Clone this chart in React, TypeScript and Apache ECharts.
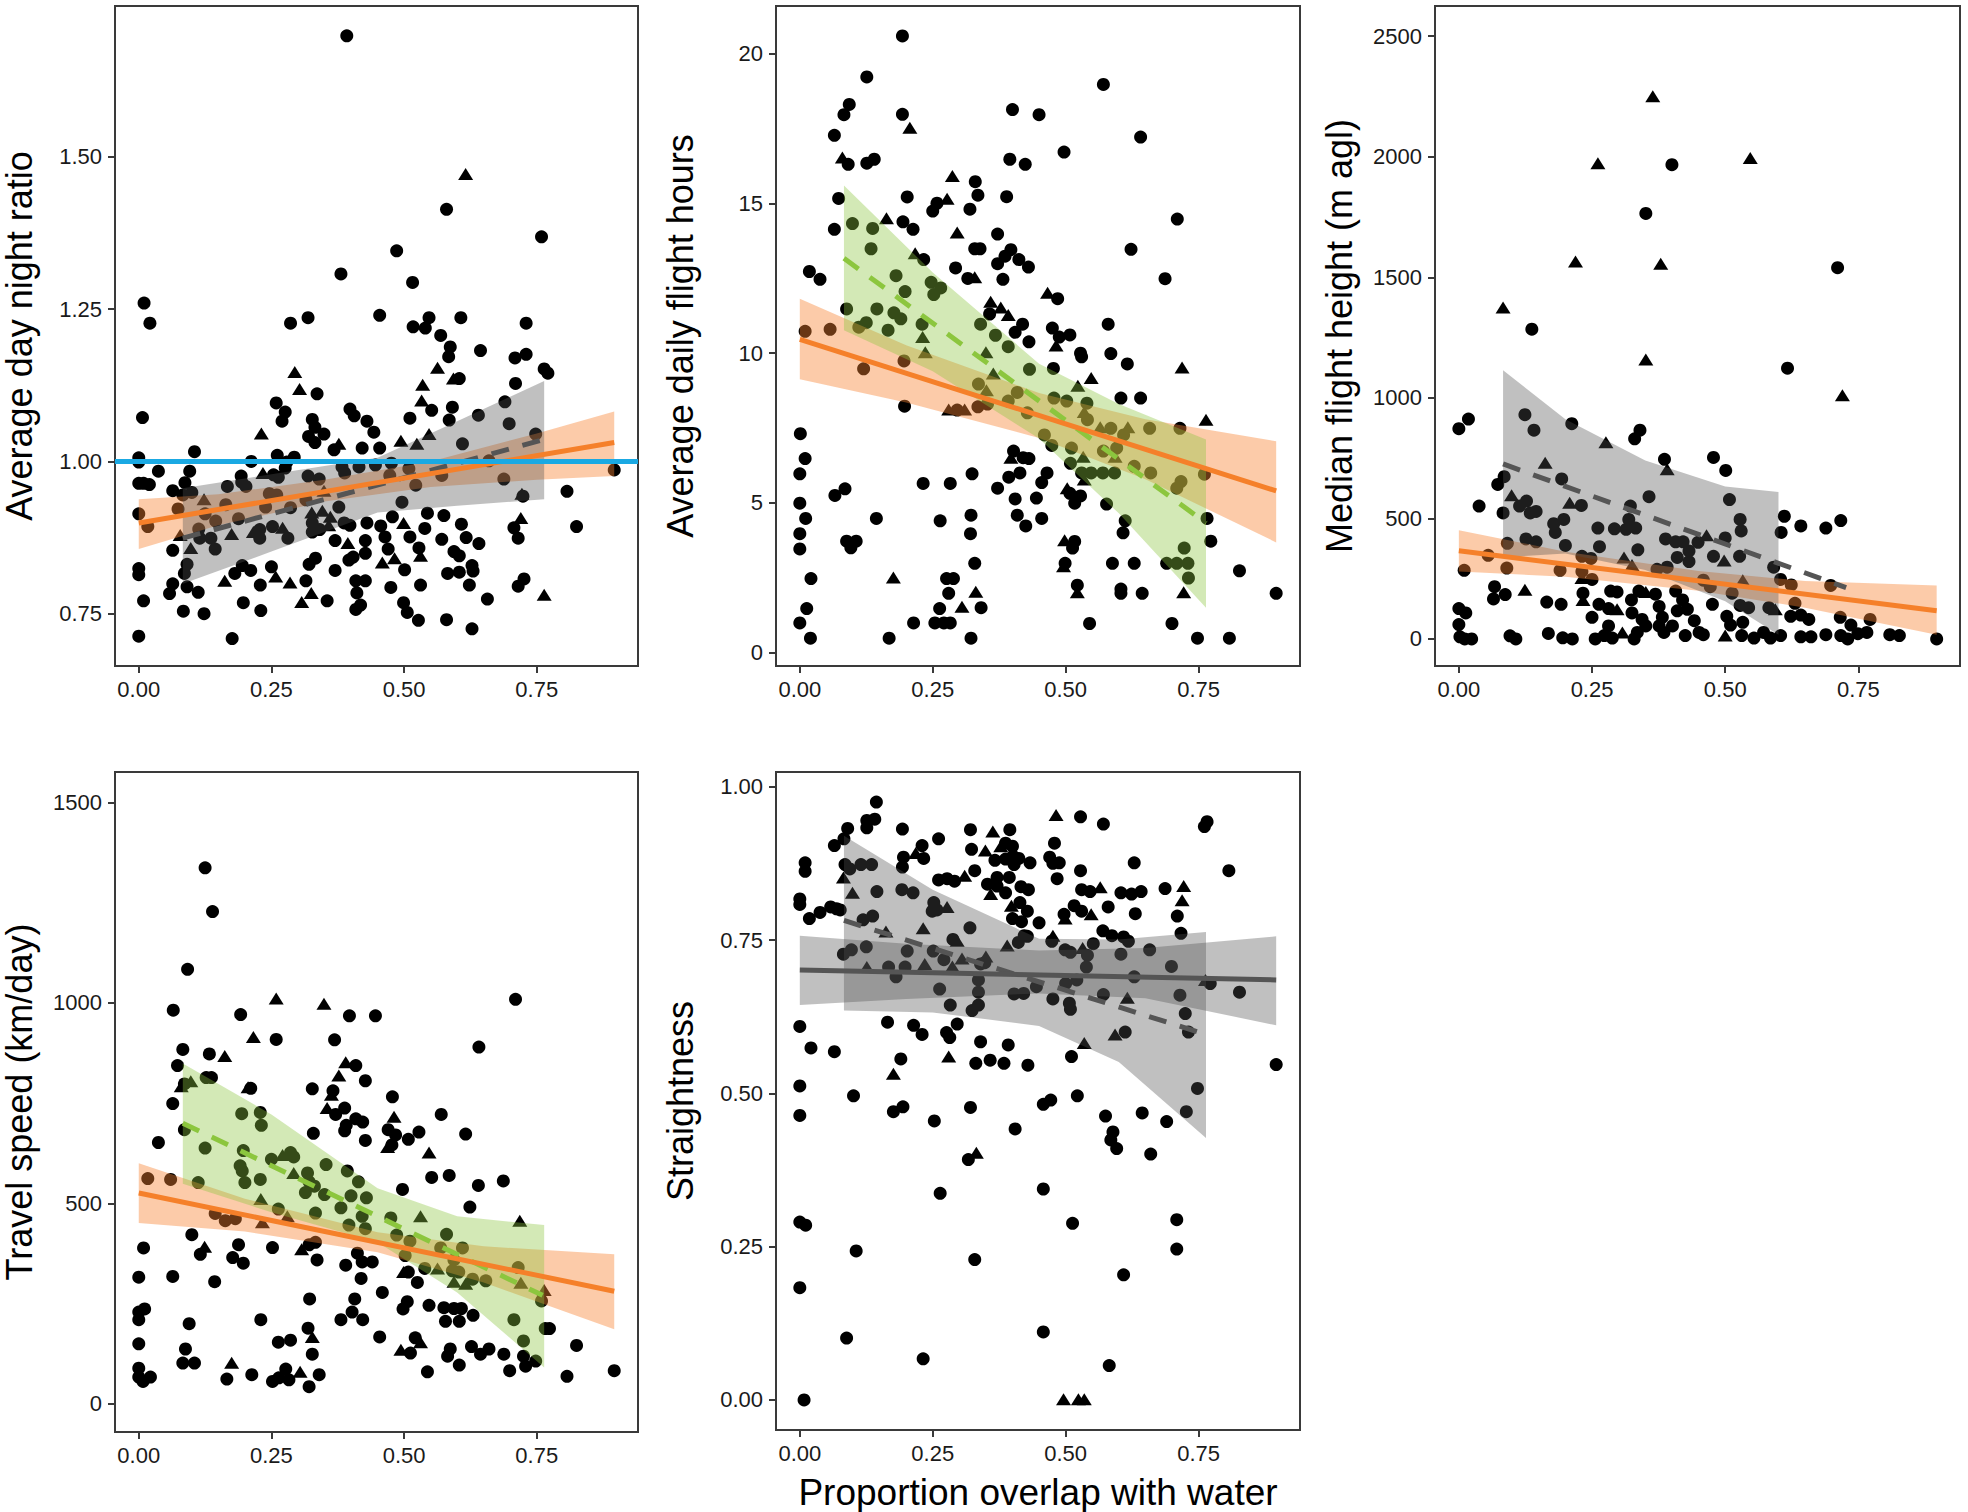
import React, { useEffect, useRef } from "react";
import * as echarts from "echarts";

const FONT = "'Liberation Sans', Arial, Helvetica, sans-serif";

// ---------- axes ----------
const X_TICKS = [0, 0.25, 0.5, 0.75];
const X_RANGE = [-0.0448, 0.9408];
const p1YTicks = [0.75, 1.0, 1.25, 1.5];
const p2YTicks = [0, 5, 10, 15, 20];
const p3YTicks = [0, 500, 1000, 1500, 2000, 2500];
const p4YTicks = [0, 500, 1000, 1500];
const p5YTicks = [0, 0.25, 0.5, 0.75, 1.0];
const yTitles = [
  "Average day night ratio",
  "Average daily flight hours",
  "Median flight height (m agl)",
  "Travel speed (km/day)",
  "Straightness",
];
const xTitle = "Proportion overlap with water";
const P1_REF = 1.0;

// ---------- panel 1: day/night ratio ----------
const p1Circles = [
  [0.392,1.699],[0.381,1.308],[0.010,1.260],[0.021,1.227],[0.286,1.227],[0.319,1.236],[0.454,1.240],[0.336,1.111],[0.007,1.072],[0.259,1.096],[0.276,1.081],[0.270,1.066],[0.327,1.069],[0.332,1.056],[0.349,1.045],[0.320,1.041],[0.332,1.031],[0.398,1.086],[0.406,1.075],[0.430,1.066],[0.443,1.048],[0.454,1.022],[0.421,1.022],[0.368,1.019],[0.105,1.016],[0.000,1.006],[0.000,0.999],[0.212,1.000],[0.261,1.010],[0.293,1.007],[0.279,0.999],[0.276,0.989],[0.037,0.984],[0.096,0.984],[0.000,0.964],[0.009,0.964],[0.020,0.962],[0.087,0.965],[0.064,0.952],[0.254,0.978],[0.263,0.974],[0.193,0.976],[0.194,0.966],[0.202,0.959],[0.167,0.959],[0.319,0.976],[0.340,0.971],[0.383,0.991],[0.388,0.981],[0.415,0.991],[0.446,0.994],[0.246,0.947],[0.260,0.945],[0.083,0.945],[0.100,0.949],[0.000,0.914],[0.017,0.893],[0.074,0.922],[0.125,0.914],[0.145,0.902],[0.164,0.929],[0.188,0.906],[0.239,0.925],[0.286,0.924],[0.315,0.937],[0.327,0.899],[0.327,0.884],[0.341,0.888],[0.377,0.925],[0.387,0.899],[0.398,0.895],[0.430,0.899],[0.456,0.894],[0.064,0.854],[0.113,0.889],[0.115,0.874],[0.136,0.874],[0.144,0.856],[0.228,0.888],[0.228,0.874],[0.252,0.893],[0.281,0.874],[0.370,0.870],[0.427,0.870],[0.396,0.838],[0.404,0.843],[0.427,0.849],[0.000,0.824],[0.000,0.814],[0.091,0.831],[0.086,0.816],[0.091,0.794],[0.064,0.799],[0.058,0.783],[0.009,0.771],[0.112,0.785],[0.181,0.816],[0.195,0.829],[0.211,0.821],[0.229,0.797],[0.250,0.827],[0.315,0.804],[0.321,0.831],[0.333,0.841],[0.355,0.771],[0.370,0.821],[0.409,0.804],[0.427,0.804],[0.411,0.784],[0.418,0.764],[0.409,0.757],[0.084,0.754],[0.123,0.750],[0.197,0.768],[0.230,0.755],[0.000,0.713],[0.176,0.709],
  [0.580,1.414],[0.759,1.369],[0.486,1.346],[0.516,1.294],[0.517,1.221],[0.540,1.219],[0.547,1.236],[0.607,1.236],[0.569,1.207],[0.587,1.188],[0.584,1.172],[0.644,1.182],[0.730,1.227],[0.730,1.176],[0.709,1.170],[0.764,1.152],[0.771,1.145],[0.710,1.128],[0.604,1.136],[0.552,1.084],[0.591,1.089],[0.511,1.071],[0.585,1.068],[0.640,1.076],[0.690,1.098],[0.698,1.062],[0.610,1.029],[0.748,1.045],[0.476,0.997],[0.509,0.988],[0.473,0.977],[0.522,0.961],[0.571,0.977],[0.660,1.001],[0.688,0.971],[0.896,0.986],[0.724,0.943],[0.807,0.951],[0.825,0.893],[0.707,0.891],[0.715,0.874],[0.496,0.933],[0.478,0.909],[0.539,0.890],[0.544,0.915],[0.575,0.911],[0.511,0.876],[0.464,0.876],[0.608,0.897],[0.571,0.872],[0.617,0.875],[0.641,0.865],[0.470,0.856],[0.528,0.858],[0.594,0.852],[0.604,0.845],[0.501,0.822],[0.582,0.816],[0.604,0.818],[0.628,0.829],[0.630,0.820],[0.623,0.797],[0.531,0.797],[0.475,0.793],[0.657,0.774],[0.726,0.807],[0.715,0.795],[0.499,0.768],[0.506,0.752],[0.527,0.739],[0.580,0.740],[0.628,0.725],
];
const p1Triangles = [
  [0.294,1.147],[0.303,1.119],[0.231,1.046],[0.377,1.029],[0.234,0.981],[0.349,0.952],[0.123,0.938],[0.326,0.916],[0.346,0.919],[0.361,0.909],[0.358,0.895],[0.078,0.879],[0.098,0.858],[0.175,0.881],[0.216,0.884],[0.271,0.891],[0.394,0.866],[0.459,0.834],[0.162,0.804],[0.258,0.811],[0.285,0.801],[0.325,0.784],[0.307,0.769],
  [0.616,1.472],[0.563,1.154],[0.535,1.126],[0.593,1.136],[0.533,1.100],[0.547,1.045],[0.494,1.034],[0.524,1.029],[0.722,0.947],[0.720,0.907],[0.499,0.899],[0.482,0.841],[0.531,0.845],[0.764,0.781],
];
const p1OrangeLine = [[0, 0.899], [0.896, 1.031]];
const p1OrangeBand = [[0,0.856,0.938],[0.15,0.895,0.946],[0.35,0.934,0.970],[0.55,0.958,1.000],[0.75,0.970,1.046],[0.896,0.976,1.082]];
const p1GrayLine = [[0.083, 0.874], [0.764, 1.036]];
const p1GrayBand = [[0.083,0.799,0.956],[0.25,0.852,0.979],[0.45,0.916,1.006],[0.6,0.927,1.066],[0.764,0.938,1.132]];

// ---------- panel 2: daily flight hours ----------
const p2Circles = [
  [0.193,20.6],[0.126,19.23],[0.093,18.31],[0.083,17.97],[0.193,17.98],[0.065,17.28],[0.091,16.31],[0.126,16.35],[0.140,16.48],[0.400,18.14],[0.450,17.97],[0.395,16.48],[0.424,16.31],[0.330,15.73],[0.335,15.28],[0.389,15.23],[0.073,15.17],[0.202,15.22],[0.258,15.01],[0.250,14.75],[0.320,14.81],[0.065,14.14],[0.099,14.33],[0.137,14.17],[0.194,14.39],[0.213,14.14],[0.372,13.98],[0.134,13.49],[0.233,13.13],[0.329,13.49],[0.339,13.49],[0.397,13.46],[0.386,13.24],[0.412,13.13],[0.372,12.99],[0.430,12.88],[0.293,12.85],[0.018,12.73],[0.038,12.47],[0.181,12.59],[0.316,12.50],[0.382,12.47],[0.198,12.06],[0.247,12.37],[0.265,12.18],[0.252,11.96],[0.357,11.31],[0.088,11.48],[0.145,11.48],[0.177,11.35],[0.190,11.15],[0.125,11.02],[0.111,10.87],[0.166,10.77],[0.230,10.97],[0.340,10.97],[0.010,10.73],[0.057,10.80],[0.419,10.97],[0.405,10.70],[0.368,10.60],[0.431,10.38],[0.392,10.22],[0.120,9.48],[0.196,9.74],[0.432,9.46],[0.336,8.97],[0.353,8.30],[0.335,8.21],[0.392,8.40],[0.409,8.69],[0.428,8.01],[0.460,7.27],[0.197,8.23],[0.296,8.10],[0.001,7.31],[0.010,6.48],[0.000,5.97],[0.000,4.99],[0.011,4.48],[0.000,3.97],[0.000,3.46],[0.066,5.25],[0.085,5.47],[0.088,3.72],[0.106,3.72],[0.096,3.50],[0.144,4.48],[0.232,5.65],[0.283,5.65],[0.324,5.97],[0.264,4.40],[0.322,4.59],[0.321,3.97],[0.329,2.98],[0.402,6.73],[0.420,6.51],[0.431,6.48],[0.372,5.49],[0.393,5.86],[0.414,6.00],[0.405,5.13],[0.445,5.16],[0.455,5.68],[0.409,4.59],[0.425,4.23],[0.455,4.48],[0.021,2.47],[0.013,1.47],[0.000,0.99],[0.020,0.48],[0.168,0.48],[0.214,0.99],[0.254,0.99],[0.271,0.99],[0.283,0.99],[0.263,1.47],[0.280,1.98],[0.289,2.47],[0.276,2.47],[0.341,1.50],[0.322,0.48],
  [0.571,18.98],[0.641,17.22],[0.497,16.72],[0.710,14.48],[0.623,13.47],[0.687,12.49],[0.485,11.82],[0.475,10.84],[0.488,10.54],[0.508,10.61],[0.580,10.97],[0.528,10.00],[0.530,9.88],[0.585,9.99],[0.616,9.64],[0.477,9.49],[0.478,8.50],[0.502,8.40],[0.540,8.33],[0.604,8.50],[0.641,8.50],[0.541,7.78],[0.585,7.49],[0.609,7.27],[0.658,7.49],[0.715,7.49],[0.474,6.92],[0.511,6.83],[0.571,6.73],[0.596,6.83],[0.509,6.32],[0.530,6.00],[0.548,6.00],[0.570,6.00],[0.592,6.00],[0.629,6.22],[0.660,6.00],[0.717,5.71],[0.709,5.49],[0.761,5.96],[0.465,6.00],[0.508,5.32],[0.528,5.23],[0.517,4.99],[0.577,4.96],[0.612,4.40],[0.608,4.00],[0.766,4.48],[0.773,3.72],[0.517,3.71],[0.513,3.49],[0.723,3.49],[0.499,2.98],[0.588,2.98],[0.629,2.98],[0.690,2.98],[0.709,2.98],[0.730,2.98],[0.731,2.49],[0.827,2.73],[0.522,2.25],[0.604,2.12],[0.604,1.98],[0.644,1.98],[0.896,1.98],[0.545,0.97],[0.700,0.97],[0.748,0.48],[0.808,0.48],
];
const p2Triangles = [
  [0.207,17.53],[0.080,16.54],[0.287,15.92],[0.277,15.16],[0.163,14.51],[0.296,14.03],[0.217,13.34],[0.329,12.54],[0.359,11.72],[0.378,11.53],[0.392,11.28],[0.231,10.54],[0.236,10.03],[0.350,10.03],[0.364,9.32],[0.351,8.76],[0.280,8.12],[0.310,8.12],[0.397,6.51],[0.176,2.51],[0.331,2.03],[0.305,1.53],
  [0.466,12.02],[0.482,10.26],[0.719,9.52],[0.548,9.17],[0.523,8.91],[0.535,8.04],[0.565,7.53],[0.617,7.53],[0.764,7.78],[0.593,6.54],[0.533,6.54],[0.535,5.78],[0.503,5.49],[0.498,3.75],[0.496,2.88],[0.522,2.01],[0.722,2.01],
];
const p2OrangeLine = [[0, 10.46], [0.896, 5.40]];
const p2OrangeBand = [[0,9.13,11.82],[0.2,8.35,10.27],[0.45,7.17,8.67],[0.65,5.79,7.79],[0.896,3.68,7.06]];
const p2GreenLine = [[0.083, 13.17], [0.764, 4.33]];
const p2GreenBand = [[0.083,10.77,15.6],[0.25,9.4,12.7],[0.45,7.15,9.65],[0.6,4.65,8.3],[0.764,1.5,7.12]];

// ---------- panel 3: median flight height ----------
const p3Circles = [
  [0.400,1967],[0.351,1765],[0.137,1285],[0.000,872],[0.018,912],[0.124,930],[0.141,866],[0.212,893],[0.340,866],[0.330,830],[0.386,745],[0.085,673],[0.073,641],[0.193,664],[0.357,590],[0.038,551],[0.083,523],[0.114,551],[0.127,572],[0.134,523],[0.145,529],[0.178,478],[0.181,442],[0.197,496],[0.230,554],[0.261,460],[0.292,457],[0.314,455],[0.319,496],[0.332,460],[0.322,551],[0.388,415],[0.407,403],[0.421,403],[0.449,401],[0.091,397],[0.126,415],[0.145,403],[0.200,388],[0.264,383],[0.336,370],[0.432,365],[0.410,338],[0.432,321],[0.055,347],[0.010,285],[0.090,294],[0.190,285],[0.231,343],[0.248,334],[0.231,280],[0.250,247],[0.372,289],[0.391,298],[0.067,217],[0.065,166],[0.087,184],[0.165,153],[0.192,144],[0.233,190],[0.285,199],[0.297,195],[0.263,144],[0.250,90],[0.324,162],[0.338,199],[0.369,186],[0.407,199],[0.420,162],[0.376,135],[0.382,90],[0.410,117],[0.429,123],[0.325,108],[0.344,81],[0.281,126],[0.000,126],[0.013,108],[0.000,60],[0.002,9],[0.011,0],[0.024,0],[0.096,13],[0.107,0],[0.168,23],[0.195,5],[0.213,0],[0.256,0],[0.273,14],[0.288,4],[0.329,0],[0.351,54],[0.385,27],[0.401,54],[0.425,14],[0.451,27],[0.442,76],[0.376,54],[0.335,27],[0.281,54],
  [0.711,1540],[0.617,1123],[0.478,753],[0.501,699],[0.508,578],[0.528,496],[0.530,448],[0.611,509],[0.642,469],[0.689,460],[0.717,491],[0.605,442],[0.500,419],[0.478,343],[0.527,343],[0.591,298],[0.604,247],[0.624,224],[0.459,244],[0.472,217],[0.513,190],[0.698,222],[0.631,148],[0.476,144],[0.528,139],[0.544,130],[0.582,130],[0.623,94],[0.642,99],[0.657,81],[0.716,90],[0.736,58],[0.772,81],[0.503,94],[0.510,58],[0.533,69],[0.531,14],[0.554,4],[0.572,27],[0.585,4],[0.604,14],[0.642,9],[0.661,9],[0.689,18],[0.717,14],[0.730,0],[0.749,22],[0.766,27],[0.809,18],[0.827,14],[0.897,0],[0.459,18],
];
const p3Triangles = [
  [0.364,2251],[0.261,1973],[0.219,1565],[0.379,1556],[0.083,1375],[0.351,1159],[0.276,816],[0.162,731],[0.391,704],[0.099,596],[0.208,565],[0.310,338],[0.325,307],[0.231,253],[0.124,204],[0.233,162],[0.297,123],[0.351,195],[0.307,27],
  [0.547,1995],[0.720,1011],[0.465,430],[0.498,325],[0.533,244],[0.594,123],[0.500,14],
];
const p3OrangeLine = [[0, 366], [0.897, 117]];
const p3OrangeBand = [[0,280,451],[0.2,258,362],[0.45,200,282],[0.65,130,240],[0.897,18,222]];
const p3GrayLine = [[0.083, 726], [0.727, 213]];
const p3GrayBand = [[0.083,338,1114],[0.2,355,911],[0.35,286,740],[0.5,156,632],[0.6,18,610]];

// ---------- panel 4: travel speed ----------
const p4Circles = [
  [0.125,1337],[0.139,1228],[0.092,1084],[0.065,982],[0.192,971],[0.397,968],[0.446,968],[0.259,909],[0.369,908],[0.083,884],[0.133,873],[0.073,844],[0.127,814],[0.137,814],[0.409,844],[0.427,806],[0.086,798],[0.211,787],[0.327,786],[0.366,781],[0.064,749],[0.229,727],[0.371,722],[0.388,738],[0.409,711],[0.422,703],[0.391,695],[0.388,681],[0.086,684],[0.194,724],[0.231,695],[0.329,675],[0.427,657],[0.037,652],[0.125,638],[0.197,632],[0.250,610],[0.191,594],[0.195,581],[0.286,627],[0.292,616],[0.229,560],[0.200,552],[0.318,576],[0.321,554],[0.331,543],[0.314,527],[0.350,522],[0.333,476],[0.353,597],[0.393,581],[0.414,554],[0.429,514],[0.400,519],[0.381,489],[0.017,562],[0.060,560],[0.112,552],[0.263,486],[0.144,475],[0.163,457],[0.182,462],[0.396,446],[0.427,437],[0.421,468],[0.333,403],[0.321,397],[0.336,359],[0.412,376],[0.421,354],[0.440,354],[0.390,346],[0.419,313],[0.459,278],[0.009,389],[0.100,422],[0.116,373],[0.188,397],[0.177,365],[0.197,351],[0.252,390],[0.000,316],[0.064,318],[0.143,305],[0.322,262],[0.407,262],[0.402,229],[0.000,229],[0.011,237],[0.000,210],[0.095,200],[0.230,210],[0.381,210],[0.422,210],[0.454,167],[0.000,150],[0.088,137],[0.263,154],[0.286,159],[0.319,189],[0.327,124],[0.000,89],[0.000,67],[0.008,56],[0.022,67],[0.083,102],[0.105,102],[0.166,62],[0.213,73],[0.252,56],[0.264,65],[0.277,87],[0.283,60],[0.321,43],[0.340,73],
  [0.710,1009],[0.641,890],[0.478,766],[0.470,684],[0.484,671],[0.508,660],[0.528,678],[0.477,646],[0.570,722],[0.616,673],[0.552,565],[0.585,570],[0.640,545],[0.687,556],[0.497,535],[0.624,491],[0.475,464],[0.580,423],[0.486,421],[0.511,406],[0.502,370],[0.569,389],[0.610,389],[0.594,359],[0.591,332],[0.603,329],[0.629,311],[0.654,307],[0.715,340],[0.759,257],[0.508,329],[0.525,303],[0.539,338],[0.506,255],[0.498,237],[0.547,246],[0.575,240],[0.594,238],[0.608,238],[0.578,206],[0.604,206],[0.630,221],[0.707,210],[0.766,188],[0.774,188],[0.825,146],[0.512,127],[0.521,165],[0.544,80],[0.587,137],[0.582,119],[0.604,97],[0.627,143],[0.644,124],[0.660,137],[0.688,124],[0.699,83],[0.725,119],[0.729,94],[0.748,107],[0.725,157],[0.807,69],[0.896,83],
];
const p4Triangles = [
  [0.259,1011],[0.349,998],[0.216,915],[0.162,868],[0.390,852],[0.377,819],[0.080,792],[0.098,805],[0.206,790],[0.363,771],[0.355,738],[0.271,621],[0.292,576],[0.230,511],[0.280,468],[0.233,453],[0.307,386],[0.124,392],[0.327,167],[0.175,103],[0.304,80],
  [0.481,716],[0.469,641],[0.547,627],[0.531,468],[0.718,457],[0.720,302],[0.764,284],[0.563,338],[0.594,305],[0.616,300],[0.499,329],[0.494,135],[0.531,154],
];
const p4OrangeLine = [[0, 526], [0.896, 281]];
const p4OrangeBand = [[0,451,600],[0.2,430,512],[0.45,378,428],[0.65,303,393],[0.896,186,373]];
const p4GreenLine = [[0.083, 700], [0.761, 271]];
const p4GreenBand = [[0.083,549,849],[0.25,478,722],[0.45,403,538],[0.6,278,468],[0.764,91,446]];

// ---------- panel 5: straightness ----------
const p5Circles = [
  [0.144,0.975],[0.090,0.932],[0.126,0.945],[0.126,0.933],[0.141,0.947],[0.193,0.931],[0.261,0.915],[0.321,0.930],[0.395,0.930],[0.065,0.904],[0.083,0.915],[0.230,0.904],[0.233,0.883],[0.195,0.885],[0.193,0.869],[0.323,0.898],[0.387,0.908],[0.400,0.903],[0.367,0.880],[0.387,0.882],[0.401,0.887],[0.412,0.883],[0.433,0.876],[0.403,0.873],[0.010,0.876],[0.010,0.862],[0.085,0.873],[0.094,0.866],[0.115,0.873],[0.135,0.873],[0.329,0.863],[0.261,0.848],[0.277,0.850],[0.291,0.846],[0.371,0.852],[0.394,0.852],[0.353,0.841],[0.371,0.838],[0.387,0.827],[0.416,0.837],[0.430,0.832],[0.000,0.817],[0.000,0.808],[0.145,0.829],[0.192,0.832],[0.213,0.827],[0.038,0.795],[0.058,0.804],[0.069,0.801],[0.076,0.799],[0.018,0.785],[0.252,0.811],[0.258,0.799],[0.249,0.797],[0.137,0.789],[0.119,0.783],[0.414,0.811],[0.428,0.797],[0.400,0.785],[0.417,0.780],[0.450,0.778],[0.428,0.756],[0.422,0.757],[0.411,0.746],[0.320,0.770],[0.288,0.751],[0.082,0.727],[0.097,0.734],[0.125,0.739],[0.202,0.732],[0.251,0.732],[0.271,0.718],[0.348,0.713],[0.340,0.711],[0.167,0.706],[0.198,0.706],[0.181,0.690],[0.263,0.670],[0.336,0.685],[0.336,0.665],[0.283,0.644],[0.336,0.644],[0.324,0.635],[0.403,0.662],[0.421,0.663],[0.445,0.674],[0.000,0.609],[0.021,0.574],[0.065,0.568],[0.165,0.616],[0.214,0.611],[0.230,0.596],[0.276,0.599],[0.282,0.591],[0.296,0.613],[0.340,0.584],[0.392,0.579],[0.331,0.549],[0.358,0.554],[0.384,0.549],[0.429,0.546],[0.190,0.556],[0.000,0.512],[0.101,0.496],[0.000,0.464],[0.176,0.470],[0.194,0.478],[0.253,0.455],[0.321,0.477],[0.405,0.442],[0.458,0.482],[0.317,0.392],[0.264,0.337],[0.458,0.344],[0.000,0.290],[0.011,0.285],[0.106,0.243],[0.329,0.229],[0.000,0.183],[0.088,0.101],[0.232,0.067],[0.458,0.111],[0.008,0.000],
  [0.528,0.951],[0.571,0.939],[0.761,0.935],[0.766,0.943],[0.479,0.908],[0.470,0.885],[0.476,0.875],[0.488,0.876],[0.484,0.850],[0.528,0.863],[0.629,0.876],[0.807,0.863],[0.530,0.832],[0.546,0.829],[0.604,0.827],[0.624,0.825],[0.642,0.829],[0.687,0.834],[0.516,0.806],[0.530,0.797],[0.580,0.804],[0.497,0.792],[0.631,0.793],[0.710,0.789],[0.570,0.765],[0.587,0.757],[0.609,0.755],[0.618,0.748],[0.717,0.761],[0.474,0.748],[0.499,0.734],[0.509,0.730],[0.552,0.744],[0.541,0.725],[0.539,0.706],[0.604,0.727],[0.658,0.734],[0.699,0.707],[0.629,0.690],[0.772,0.679],[0.827,0.665],[0.500,0.679],[0.521,0.685],[0.476,0.654],[0.571,0.661],[0.507,0.647],[0.509,0.637],[0.715,0.660],[0.725,0.630],[0.731,0.600],[0.612,0.600],[0.511,0.560],[0.896,0.547],[0.522,0.496],[0.472,0.489],[0.748,0.508],[0.727,0.470],[0.575,0.463],[0.644,0.468],[0.690,0.454],[0.589,0.437],[0.585,0.424],[0.596,0.410],[0.660,0.401],[0.513,0.288],[0.709,0.294],[0.709,0.246],[0.609,0.204],[0.582,0.056],
];
const p5Triangles = [
  [0.363,0.927],[0.218,0.892],[0.349,0.896],[0.378,0.903],[0.310,0.855],[0.359,0.825],[0.082,0.852],[0.099,0.827],[0.277,0.804],[0.398,0.806],[0.162,0.764],[0.232,0.769],[0.296,0.749],[0.390,0.741],[0.305,0.720],[0.350,0.723],[0.126,0.706],[0.235,0.711],[0.287,0.707],[0.280,0.560],[0.176,0.532],[0.332,0.403],
  [0.482,0.954],[0.565,0.836],[0.722,0.838],[0.719,0.815],[0.548,0.792],[0.499,0.785],[0.476,0.757],[0.532,0.737],[0.763,0.685],[0.616,0.656],[0.535,0.582],[0.593,0.596],[0.496,0.001],[0.524,0.001],[0.535,0.001],
];
const p5SolidLine = [[0, 0.701], [0.896, 0.685]];
const p5SolidBand = [[0,0.644,0.757],[0.2,0.654,0.744],[0.45,0.663,0.733],[0.65,0.655,0.737],[0.896,0.611,0.756]];
const p5DashLine = [[0.083, 0.782], [0.764, 0.596]];
const p5DashBand = [[0.083,0.635,0.92],[0.25,0.632,0.832],[0.45,0.61,0.752],[0.6,0.551,0.751],[0.764,0.427,0.763]];

// ---------- styling ----------
const ORANGE = "#F5802A";
const ORANGE_FILL = "rgba(248,130,50,0.42)";
const GREEN = "#8CC63E";
const GREEN_FILL = "rgba(140,198,62,0.38)";
const GRAY = "#555555";
const GRAY_FILL = "rgba(80,80,80,0.36)";
const BLUE = "#1AA9E3";
const DASH = [18, 14];
const AXIS_COLOR = "#3a3a3a";
const LABEL_COLOR = "#1a1a1a";

const grids = [
  { left: 115, top: 6, width: 523, height: 660 },
  { left: 776, top: 6, width: 524, height: 660 },
  { left: 1435, top: 6, width: 525, height: 660 },
  { left: 115, top: 772, width: 523, height: 660 },
  { left: 776, top: 772, width: 524, height: 660 },
];

const panels = [
  { yMin: 0.664, yMax: 1.748, yTicks: p1YTicks, dec: 2, circles: p1Circles, triangles: p1Triangles,
    bands: [{ d: p1OrangeBand, c: ORANGE_FILL }, { d: p1GrayBand, c: GRAY_FILL }],
    lines: [{ d: p1GrayLine, c: GRAY, dash: true }, { d: p1OrangeLine, c: ORANGE, dash: false }] },
  { yMin: -0.45, yMax: 21.6, yTicks: p2YTicks, dec: 0, circles: p2Circles, triangles: p2Triangles,
    bands: [{ d: p2OrangeBand, c: ORANGE_FILL }, { d: p2GreenBand, c: GREEN_FILL }],
    lines: [{ d: p2GreenLine, c: GREEN, dash: true }, { d: p2OrangeLine, c: ORANGE, dash: false }] },
  { yMin: -112, yMax: 2625, yTicks: p3YTicks, dec: 0, circles: p3Circles, triangles: p3Triangles,
    bands: [{ d: p3OrangeBand, c: ORANGE_FILL }, { d: p3GrayBand, c: GRAY_FILL }],
    lines: [{ d: p3GrayLine, c: GRAY, dash: true }, { d: p3OrangeLine, c: ORANGE, dash: false }] },
  { yMin: -70, yMax: 1576, yTicks: p4YTicks, dec: 0, circles: p4Circles, triangles: p4Triangles,
    bands: [{ d: p4OrangeBand, c: ORANGE_FILL }, { d: p4GreenBand, c: GREEN_FILL }],
    lines: [{ d: p4GreenLine, c: GREEN, dash: true }, { d: p4OrangeLine, c: ORANGE, dash: false }] },
  { yMin: -0.049, yMax: 1.024, yTicks: p5YTicks, dec: 2, circles: p5Circles, triangles: p5Triangles,
    bands: [{ d: p5SolidBand, c: GRAY_FILL }, { d: p5DashBand, c: GRAY_FILL }],
    lines: [{ d: p5DashLine, c: GRAY, dash: true }, { d: p5SolidLine, c: GRAY, dash: false }] },
];

function bandSeries(idx: number, band: number[][], color: string) {
  return {
    type: "custom",
    xAxisIndex: idx,
    yAxisIndex: idx,
    z: 3,
    silent: true,
    data: [[band[0][0], band[0][1]]],
    renderItem: (_p: any, api: any) => {
      const upper = band.map((b) => api.coord([b[0], b[2]]));
      const lower = band.slice().reverse().map((b) => api.coord([b[0], b[1]]));
      return {
        type: "polygon",
        shape: { points: upper.concat(lower) },
        style: { fill: color, stroke: "none" },
      };
    },
  };
}

function buildOption() {
  const xAxis: any[] = [];
  const yAxis: any[] = [];
  const series: any[] = [];
  panels.forEach((p, i) => {
    xAxis.push({
      gridIndex: i,
      type: "value",
      min: X_RANGE[0],
      max: X_RANGE[1],
      splitLine: { show: false },
      axisLine: { show: true, onZero: false, lineStyle: { color: AXIS_COLOR, width: 2 } },
      axisTick: { show: true, length: 7, customValues: X_TICKS, lineStyle: { color: AXIS_COLOR, width: 2 } },
      axisLabel: {
        customValues: X_TICKS,
        formatter: (v: number) => v.toFixed(2),
        fontSize: 22,
        color: LABEL_COLOR,
        margin: 12,
        fontFamily: FONT,
      },
      name: i === 4 ? xTitle : "",
      nameLocation: "middle",
      nameGap: 44,
      nameTextStyle: { fontSize: 37, color: "#000", fontFamily: FONT },
    });
    yAxis.push({
      gridIndex: i,
      type: "value",
      min: p.yMin,
      max: p.yMax,
      splitLine: { show: false },
      axisLine: { show: true, onZero: false, lineStyle: { color: AXIS_COLOR, width: 2 } },
      axisTick: { show: true, length: 7, customValues: p.yTicks, lineStyle: { color: AXIS_COLOR, width: 2 } },
      axisLabel: {
        customValues: p.yTicks,
        formatter: (v: number) => v.toFixed(p.dec),
        fontSize: 22,
        color: LABEL_COLOR,
        margin: 13,
        fontFamily: FONT,
      },
      name: yTitles[i],
      nameLocation: "middle",
      nameRotate: 90,
      nameGap: 78,
      nameTextStyle: { fontSize: 36, color: "#000", fontFamily: FONT },
    });
    const circleSeries: any = {
      type: "scatter",
      xAxisIndex: i,
      yAxisIndex: i,
      data: p.circles,
      symbol: "circle",
      symbolSize: 13,
      itemStyle: { color: "#000", opacity: 1 },
      z: 2,
      silent: true,
    };
    if (i === 0) {
      circleSeries.markLine = {
        silent: true,
        symbol: ["none", "none"],
        label: { show: false },
        lineStyle: { color: BLUE, width: 5, type: "solid" },
        data: [{ yAxis: P1_REF }],
      };
    }
    series.push(circleSeries);
    series.push({
      type: "scatter",
      xAxisIndex: i,
      yAxisIndex: i,
      data: p.triangles,
      symbol: "triangle",
      symbolSize: [15, 12],
      itemStyle: { color: "#000", opacity: 1 },
      z: 2,
      silent: true,
    });
    p.bands.forEach((b) => series.push(bandSeries(i, b.d, b.c)));
    p.lines.forEach((l) =>
      series.push({
        type: "line",
        xAxisIndex: i,
        yAxisIndex: i,
        data: l.d,
        symbol: "none",
        silent: true,
        z: 4,
        lineStyle: { color: l.c, width: 5, type: l.dash ? DASH : "solid", cap: "butt" },
      })
    );
  });
  return {
    animation: false,
    backgroundColor: "#ffffff",
    grid: grids.map((g) => ({ ...g, show: true, borderColor: AXIS_COLOR, borderWidth: 2, backgroundColor: "transparent" })),
    xAxis,
    yAxis,
    series,
  };
}

export default function App() {
  const ref = useRef<HTMLDivElement>(null);
  useEffect(() => {
    if (!ref.current) return;
    const chart = echarts.init(ref.current, undefined, { renderer: "svg" });
    chart.setOption(buildOption() as any);
    return () => chart.dispose();
  }, []);
  return (
    <div
      ref={ref}
      style={{ position: "absolute", left: 0, top: 0, width: 1968, height: 1512, background: "#fff" }}
    />
  );
}
